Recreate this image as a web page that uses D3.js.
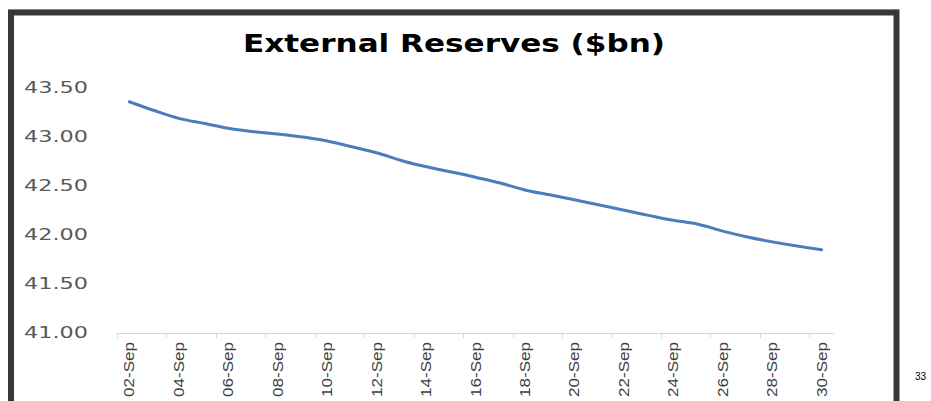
<!DOCTYPE html>
<html>
<head>
<meta charset="utf-8">
<script src="https://cdn.jsdelivr.net/npm/d3@7"></script>
<style>
  html, body { margin: 0; padding: 0; background: #ffffff; }
  svg { display: block; }
</style>
</head>
<body>
<svg id="chart" width="931" height="401"></svg>
<script>
// ---- data ----
const title = "External Reserves ($bn)";
const dates = [
  "2019-09-02","2019-09-03","2019-09-04","2019-09-05","2019-09-06",
  "2019-09-09","2019-09-10","2019-09-11","2019-09-12","2019-09-13",
  "2019-09-16","2019-09-17","2019-09-18","2019-09-19","2019-09-20",
  "2019-09-23","2019-09-24","2019-09-25","2019-09-26","2019-09-27",
  "2019-09-30"
];
const reserves = [
  43.36, 43.27, 43.19, 43.14, 43.09,
  43.00, 42.96, 42.90, 42.84, 42.76,
  42.59, 42.53, 42.46, 42.41, 42.36,
  42.20, 42.15, 42.11, 42.04, 41.98,
  41.85
];
const xTickLabels = ["02-Sep","04-Sep","06-Sep","08-Sep","10-Sep","12-Sep","14-Sep","16-Sep",
                     "18-Sep","20-Sep","22-Sep","24-Sep","26-Sep","28-Sep","30-Sep"];
const yTicks = [41.00, 41.50, 42.00, 42.50, 43.00, 43.50];
const pageNumber = "33";

// ---- setup ----
const svg = d3.select("#chart");
const parse = d3.timeParse("%Y-%m-%d");
const series = dates.map((d, i) => ({ date: parse(d), value: reserves[i] }));
const labelDates = xTickLabels.map(s => d3.timeParse("%d-%b-%Y")(s + "-2019"));

const HALF_DAY = 12 * 3600 * 1000;
const x = d3.scaleTime()
  .domain([new Date(+parse("2019-09-02") - HALF_DAY), new Date(+parse("2019-09-30") + HALF_DAY)])
  .range([117, 834]);
const y = d3.scaleLinear().domain([41, 43.5]).range([333, 88]);

// frame
svg.append("line").attr("x1", 8).attr("x2", 900).attr("y1", 9.5).attr("y2", 9.5)
  .attr("stroke", "#d0d0d0").attr("stroke-width", 1);
svg.append("rect")
  .attr("x", 11).attr("y", 12.5).attr("width", 885.5).attr("height", 430)
  .attr("fill", "none").attr("stroke", "#383838").attr("stroke-width", 6);

// title
svg.append("text")
  .attr("x", 454).attr("y", 52)
  .attr("text-anchor", "middle")
  .attr("font-family", "DejaVu Sans, sans-serif")
  .attr("font-weight", "bold")
  .attr("font-size", 25)
  .attr("fill", "#000")
  .attr("textLength", 422)
  .attr("lengthAdjust", "spacingAndGlyphs")
  .text(title);

// y labels (no axis line)
svg.append("g").selectAll("text").data(yTicks).join("text")
  .attr("x", 88).attr("y", d => y(d))
  .attr("dy", "0.36em")
  .attr("text-anchor", "end")
  .attr("font-family", "DejaVu Sans, sans-serif")
  .attr("font-size", 15)
  .attr("fill", "#595959")
  .attr("textLength", 64)
  .attr("lengthAdjust", "spacingAndGlyphs")
  .text(d => d3.format(".2f")(d));

// x axis line and ticks
const xAxisG = svg.append("g");
xAxisG.append("line")
  .attr("x1", x.range()[0]).attr("x2", x.range()[1])
  .attr("y1", 333.5).attr("y2", 333.5)
  .attr("stroke", "#d9d9d9").attr("stroke-width", 1);
xAxisG.selectAll("line.tick").data(labelDates).join("line")
  .attr("class", "tick")
  .attr("x1", d => Math.round(x(new Date(+d - HALF_DAY))) + 0.5)
  .attr("x2", d => Math.round(x(new Date(+d - HALF_DAY))) + 0.5)
  .attr("y1", 333).attr("y2", 338)
  .attr("stroke", "#d9d9d9").attr("stroke-width", 1);
xAxisG.selectAll("text").data(labelDates).join("text")
  .attr("transform", d => `translate(${x(d) + 5},342) rotate(-90)`)
  .attr("text-anchor", "end")
  .attr("font-family", "Liberation Sans Narrow, Liberation Sans, Arial, sans-serif")
  .attr("font-size", 14)
  .attr("fill", "#404040")
  .attr("textLength", 55)
  .attr("lengthAdjust", "spacingAndGlyphs")
  .text((d, i) => xTickLabels[i]);

// line
const line = d3.line()
  .x(d => x(d.date))
  .y(d => y(d.value))
  .curve(d3.curveMonotoneX);
svg.append("path").datum(series)
  .attr("d", line)
  .attr("fill", "none")
  .attr("stroke", "#4a7ebb")
  .attr("stroke-width", 3)
  .attr("stroke-linecap", "round")
  .attr("stroke-linejoin", "round");

// page number
svg.append("text")
  .attr("x", 915).attr("y", 380)
  .attr("font-family", "Liberation Sans, Arial, sans-serif")
  .attr("font-size", 10)
  .attr("fill", "#000")
  .text(pageNumber);
</script>
</body>
</html>
